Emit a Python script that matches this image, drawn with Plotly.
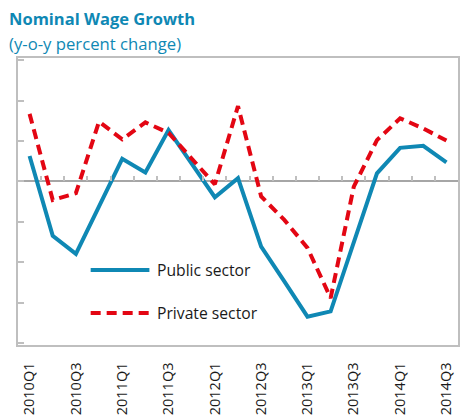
import plotly.graph_objects as go

quarters = ["2010Q1", "2010Q2", "2010Q3", "2010Q4",
            "2011Q1", "2011Q2", "2011Q3", "2011Q4",
            "2012Q1", "2012Q2", "2012Q3", "2012Q4",
            "2013Q1", "2013Q2", "2013Q3", "2013Q4",
            "2014Q1", "2014Q2", "2014Q3"]
public_sector = [0.63, -1.34, -1.79, -0.62, 0.56, 0.22, 1.27, 0.44, -0.39, 0.08,
                 -1.61, -2.47, -3.34, -3.21, -1.50, 0.20, 0.83, 0.88, 0.47]
private_sector = [1.67, -0.46, -0.29, 1.48, 1.04, 1.46, 1.20, 0.57, -0.07, 1.86,
                  -0.37, -0.95, -1.64, -2.88, -0.13, 1.02, 1.56, 1.31, 1.01]
tick_labels = quarters[::2]
series_names = ["Public sector", "Private sector"]

BLUE = "#0f88b4"
RED = "#e30613"
GRID = "#bfbfbf"
FONT = "Open Sans"

W, H = 461, 420
ML, MR, MT, MB = 18, 1, 58, 75
YMIN, YMAX = -4.04, 3.05
pw, ph = W - ML - MR, H - MT - MB

fig = go.Figure()
fig.add_trace(go.Scatter(x=quarters, y=public_sector, mode="lines", name=series_names[0],
                         line=dict(color=BLUE, width=4), showlegend=False))
fig.add_trace(go.Scatter(x=quarters, y=private_sector, mode="lines", name=series_names[1],
                         line=dict(color=RED, width=4, dash="10px,6px"), showlegend=False))
# invisible helper trace for the tick axis on the zero line
fig.add_trace(go.Scatter(x=quarters, y=public_sector, xaxis="x2", mode="lines",
                         line=dict(width=0), opacity=0, hoverinfo="skip", showlegend=False))

zero_pos = (0 - YMIN) / (YMAX - YMIN)

fig.update_layout(
    width=W, height=H,
    margin=dict(l=ML, r=MR, t=MT, b=MB),
    paper_bgcolor="white", plot_bgcolor="white",
    font=dict(family=FONT, color="#1a1a1a"),
    xaxis=dict(type="category", categoryorder="array", categoryarray=quarters,
               range=[-0.5, len(quarters) - 0.5],
               tickvals=tick_labels, ticktext=tick_labels, tickangle=-90,
               ticks="outside", ticklen=10, tickcolor="rgba(0,0,0,0)",
               tickfont=dict(size=14.5, family=FONT, color="#1a1a1a"),
               showgrid=False, zeroline=False,
               showline=True, mirror=True, linecolor=GRID, linewidth=1.5),
    xaxis2=dict(type="category", categoryorder="array", categoryarray=quarters,
                range=[-0.5, len(quarters) - 0.5], overlaying="x", anchor="free",
                position=zero_pos, side="bottom", tickson="boundaries",
                ticks="inside", ticklen=5, tickwidth=1.5, tickcolor=GRID,
                showticklabels=False, showgrid=False, showline=False, zeroline=False),
    yaxis=dict(range=[YMIN, YMAX], dtick=1, tick0=0, showticklabels=False,
               ticks="inside", ticklen=6, tickwidth=1.5, tickcolor=GRID,
               showgrid=False, zeroline=True, zerolinecolor="#a6a6a6", zerolinewidth=2,
               showline=True, mirror=True, linecolor=GRID, linewidth=1.5),
)

def px_x(x):
    return (x - ML) / pw

def px_y(y):
    return (H - MB - y) / ph

fig.add_annotation(text="<b>Nominal Wage Growth</b>", xref="paper", yref="paper",
                   x=px_x(7), y=px_y(18), xanchor="left", yanchor="middle", showarrow=False,
                   font=dict(size=16.5, color=BLUE, family=FONT))
fig.add_annotation(text="(y-o-y percent change)", xref="paper", yref="paper",
                   x=px_x(7), y=px_y(43), xanchor="left", yanchor="middle", showarrow=False,
                   font=dict(size=16.7, color=BLUE, family=FONT))

# legend
for name, color, dash, ypx in [(series_names[0], BLUE, "solid", 270),
                               (series_names[1], RED, "10px,6px", 313)]:
    fig.add_shape(type="line", xref="paper", yref="paper",
                  x0=px_x(91), x1=px_x(150), y0=px_y(ypx), y1=px_y(ypx),
                  line=dict(color=color, width=4, dash=dash))
    fig.add_annotation(text=name, xref="paper", yref="paper", x=px_x(156), y=px_y(ypx),
                       xanchor="left", yanchor="middle", showarrow=False,
                       font=dict(size=15.7, color="#1a1a1a", family=FONT))

fig.write_html("out.html", config={"displayModeBar": False},
               post_script="document.body.style.margin='0';document.body.style.overflow='hidden';")
